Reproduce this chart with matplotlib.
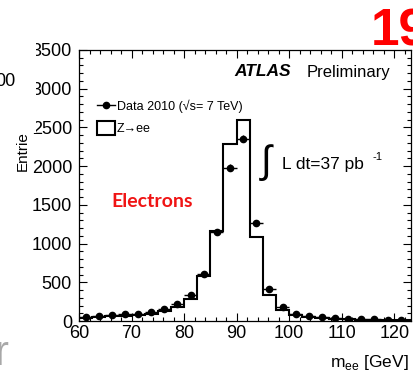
import matplotlib
matplotlib.use("Agg")
import matplotlib.pyplot as plt
from matplotlib.lines import Line2D
from matplotlib.patches import Patch, Rectangle
import numpy as np

plt.rcParams['font.family'] = ['Liberation Sans', 'DejaVu Sans']

# bin edges of m_ee [GeV], 2.5 GeV bins
edges = [60.0 + 2.5 * i for i in range(27)]
centers = [61.25 + 2.5 * i for i in range(26)]

# data 2010 (points)
data = [50, 70, 80, 85, 95, 115, 150, 215, 330, 605,
        1150, 1980, 2355, 1270, 410, 175, 95, 60, 55, 35,
        25, 22, 20, 18, 15, 15]
data_err = [7, 8, 9, 9, 10, 11, 12, 15, 18, 25,
            34, 44, 49, 36, 20, 13, 10, 8, 7, 6,
            5, 5, 4, 4, 4, 4]

# Z->ee MC (histogram)
mc = [40, 55, 65, 70, 80, 95, 125, 180, 290, 580,
      1165, 2290, 2600, 1090, 330, 145, 80, 50, 40, 30,
      22, 18, 15, 12, 10, 10]

W, H = 414, 375


def fx(px):
    return px / W


def fy(py):
    return 1 - py / H


fig = plt.figure(figsize=(4.14, 3.75), dpi=100)
ax = fig.add_axes([fx(79), fy(321), (411 - 79) / W, (321 - 50) / H])

ax.stairs(mc, edges, color='k', lw=1.5, baseline=None)
ax.errorbar(centers, data, xerr=1.25, yerr=data_err, fmt='o', ms=4.5,
            color='k', ecolor='k', elinewidth=1.0, capsize=0)

ax.set_xlim(60, 123.2)
ax.set_ylim(0, 3500)
ax.set_xticks(np.arange(60, 121, 10))
ax.set_xticks(np.arange(60, 124, 2), minor=True)
ax.set_yticks(np.arange(0, 3501, 500))
ax.set_yticks(np.arange(0, 3501, 100), minor=True)
ax.tick_params(which='both', direction='in', top=True, right=True,
               width=0.8, labelsize=13)
ax.tick_params(which='major', length=6)
ax.tick_params(which='minor', length=3)
ax.tick_params(axis='y', pad=5)
ax.tick_params(axis='x', pad=3)
for s in ax.spines.values():
    s.set_linewidth(0.9)

# legend
handles = [Line2D([], [], color='k', marker='o', ms=4.5, lw=1.0),
           Patch(facecolor='white', edgecolor='k', lw=1.5)]
ax.legend(handles, ['Data 2010 (√s= 7 TeV)', 'Z→ee'], loc='upper left',
          bbox_to_anchor=((97 - 79) / 332, 1 - (99 - 50) / 271),
          frameon=False, fontsize=9, borderpad=0, borderaxespad=0,
          handlelength=1.45, handleheight=1.3, labelspacing=0.64,
          handletextpad=0.15)

fig.text(fx(234), fy(72), 'ATLAS', fontsize=12.5, weight='bold',
         style='italic', va='center')
fig.text(fx(307), fy(72), 'Preliminary', fontsize=12, va='center')
fig.text(fx(261), fy(163), '∫', fontsize=28, va='center')
fig.text(fx(282), fy(165), 'L dt=37 pb', fontsize=12.5, va='center')
fig.text(fx(373), fy(157), '-1', fontsize=8, va='center')
fig.text(fx(111), fy(202), 'Electrons', fontsize=14, weight='bold',
         color='#f01414', family=['Lato', 'DejaVu Sans'], va='center')

fig.text(fx(409), fy(362), r'm$_{\mathregular{ee}}$ [GeV]', fontsize=12.5,
         ha='right', va='center')
# y title is cut by the slide crop, only "Entrie" is visible
fig.text(fx(23), fy(171), 'Entrie', fontsize=11, rotation=90,
         ha='center', va='bottom')

# slide pieces around the crop
fig.add_artist(Rectangle((fx(16), fy(133)), (36 - 16) / W, 133 / H,
                         transform=fig.transFigure, facecolor='white',
                         edgecolor='none', zorder=5))
fig.text(fx(16), fy(82), '00', fontsize=13, ha='right', va='center')
fig.text(fx(371), fy(45), '19', fontsize=37, weight='bold', color='#ff0000',
         va='baseline')
fig.text(fx(-6), fy(365), 'r', fontsize=30, color='#a8a8a8', va='baseline')

fig.savefig('out.png', dpi=100)
